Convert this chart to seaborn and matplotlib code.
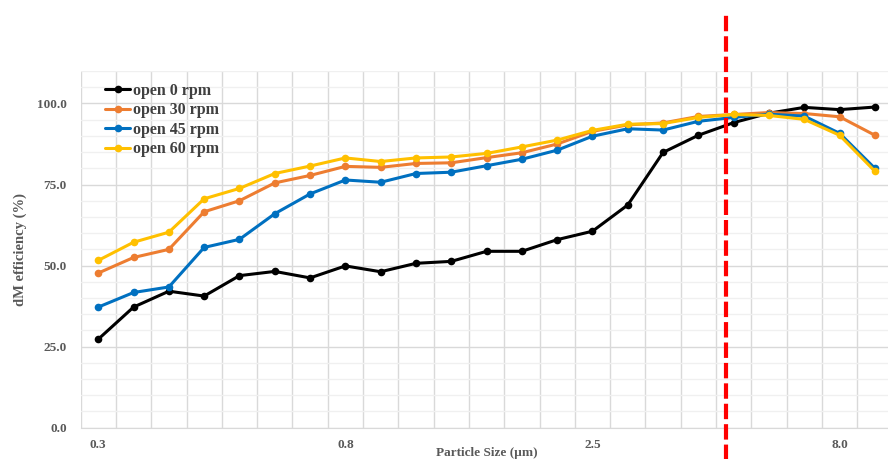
import numpy as np
import pandas as pd
import matplotlib
matplotlib.use("Agg")
import matplotlib.pyplot as plt
from matplotlib.ticker import MultipleLocator, FormatStrFormatter
import seaborn as sns

# Size channels (category positions) and the labelled channel sizes
n_channels = 23
tick_pos = [0, 7, 14, 21]
tick_labels = ["0.3", "0.8", "2.5", "8.0"]

# Collection efficiency per size channel (%)
open_0 = [27.3, 37.2, 42.1, 40.6, 46.9, 48.2, 46.2, 49.9, 48.1, 50.7, 51.3, 54.4,
          54.4, 58.0, 60.6, 68.7, 84.9, 90.2, 94.1, 97.0, 98.8, 98.1, 98.9]
open_30 = [47.7, 52.5, 55.0, 66.6, 70.0, 75.5, 77.8, 80.6, 80.3, 81.5, 81.7, 83.3,
           84.8, 87.5, 91.4, 93.4, 94.0, 96.0, 96.6, 97.2, 96.9, 95.9, 90.2]
open_45 = [37.2, 41.7, 43.4, 55.6, 58.1, 66.0, 72.1, 76.4, 75.7, 78.4, 78.8, 80.8,
           82.8, 85.6, 89.9, 92.2, 91.8, 94.5, 95.7, 96.7, 96.1, 90.8, 80.0]
open_60 = [51.6, 57.2, 60.3, 70.6, 73.8, 78.4, 80.7, 83.2, 82.1, 83.2, 83.5, 84.6,
           86.6, 88.7, 91.7, 93.6, 93.8, 95.7, 96.6, 96.3, 95.1, 90.2, 79.1]
series_names = ["open 0 rpm", "open 30 rpm", "open 45 rpm", "open 60 rpm"]
series_colors = ["#000000", "#ED7D31", "#0070C0", "#FFC000"]

# Cut-off marker position on the channel axis
cut_position = 17.77

frames = []
for name, vals in zip(series_names, [open_0, open_30, open_45, open_60]):
    frames.append(pd.DataFrame({"channel": np.arange(n_channels),
                                "efficiency": vals, "series": name}))
df = pd.concat(frames, ignore_index=True)

sns.set_style("white")
plt.rcParams["font.family"] = ["Liberation Serif", "DejaVu Serif"]
plt.rcParams["font.weight"] = "bold"

fig = plt.figure(figsize=(8.88, 4.59), dpi=100)
ax = fig.add_axes([0.0908, 0.0682, 0.9143, 0.777])

sns.lineplot(data=df, x="channel", y="efficiency", hue="series",
             hue_order=series_names, palette=series_colors,
             marker="o", markersize=5.5, markeredgewidth=0,
             linewidth=2.2, ax=ax, sort=False)

ax.set_xlim(-0.5, n_channels - 0.5)
ax.set_ylim(0, 110)

# Category gridlines between channels, major/minor horizontal grid
for b in np.arange(-0.5, n_channels, 1.0):
    ax.axvline(b, color="#d9d9d9", linewidth=1.0, zorder=0)
ax.yaxis.set_major_locator(MultipleLocator(25))
ax.yaxis.set_minor_locator(MultipleLocator(5))
ax.yaxis.set_major_formatter(FormatStrFormatter("%.1f"))
ax.grid(axis="y", which="major", color="#d9d9d9", linewidth=1.0, zorder=0)
ax.grid(axis="y", which="minor", color="#f0f0f0", linewidth=1.0, zorder=0)
ax.set_axisbelow(True)

ax.set_xticks(tick_pos)
ax.set_xticklabels(tick_labels)
ax.tick_params(axis="both", which="both", length=0, labelsize=9.5,
               labelcolor="#595959")
ax.tick_params(axis="x", pad=8)
ax.tick_params(axis="y", pad=10)
for lab in ax.get_xticklabels() + ax.get_yticklabels():
    lab.set_fontweight("bold")

for side in ["top", "right", "left"]:
    ax.spines[side].set_visible(False)
ax.spines["bottom"].set_color("#d9d9d9")

ax.set_xlabel("Particle Size (µm)", fontsize=9.5, fontweight="bold",
              color="#595959", labelpad=0)
ax.set_ylabel("dM efficiency (%)", fontsize=10.5, fontweight="bold",
              color="#595959", labelpad=8)
ax.yaxis.set_label_coords(-0.066, 0.5)
ax.xaxis.set_label_coords(0.5, -0.055)

handles, labels = ax.get_legend_handles_labels()
leg = ax.legend(handles, labels, loc="upper left", bbox_to_anchor=(0.022, 0.985),
                frameon=False, fontsize=11.5, handlelength=1.6, handletextpad=0.15,
                labelspacing=0.22, borderaxespad=0)
for t in leg.get_texts():
    t.set_color("#404040")
    t.set_fontweight("bold")

# Dashed cut-off line, running past the plot area
ax.axvline(cut_position, ymin=-0.09, ymax=1.165, color="#FF0000", linewidth=3,
           linestyle=(0, (3.7, 1.2)), clip_on=False, zorder=5)

fig.savefig("out.png", dpi=100)
